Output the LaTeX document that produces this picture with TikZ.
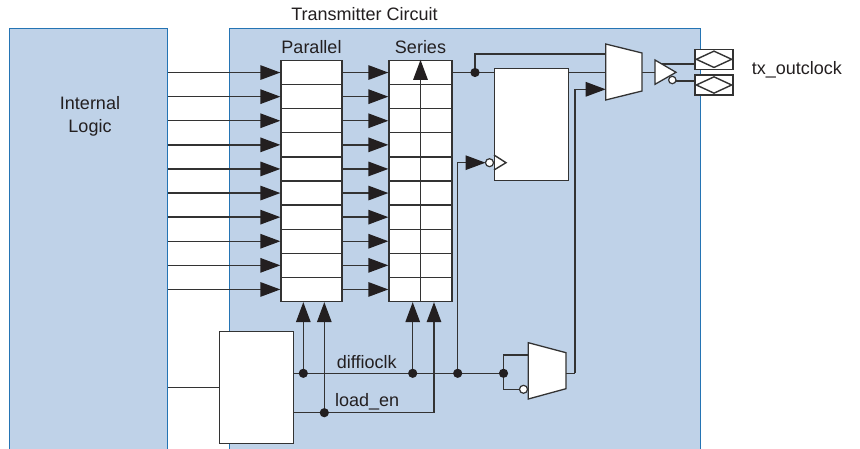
\documentclass[tikz,border=0pt]{standalone}
\usepackage{fontspec}
\setmainfont{Liberation Sans}
\usetikzlibrary{arrows.meta}
\definecolor{bfill}{HTML}{BFD2E8}
\definecolor{bline}{HTML}{2474B4}
\definecolor{wire}{HTML}{333333}
\definecolor{ink}{HTML}{231F20}
\begin{document}
\begin{tikzpicture}[x=1pt,y=-1pt,
  wirestyle/.style={draw=wire, line width=1.4pt},
  arr/.style={wirestyle, -{Triangle[length=20pt,width=14.5pt,color=ink]}},
  blk/.style={draw=bline, fill=bfill, line width=1.4pt, inner sep=0pt, anchor=north west},
  cell/.style={draw=wire, fill=white, line width=1.3pt, inner sep=0pt, minimum width=61pt, minimum height=24.1pt},
  whitebox/.style={draw=wire, fill=white, line width=1.3pt, inner sep=0pt, anchor=north west},
  gate/.style={draw=wire, fill=white, line width=1.3pt, line join=miter},
  bubble/.style={draw=wire, fill=white, line width=1.2pt},
  pad/.style={draw=wire, fill=white, line width=1.3pt, inner sep=0pt, minimum width=38pt, minimum height=20pt},
  dot/.style={fill=ink},
  lbl/.style={font=\fontsize{18}{20}\selectfont, text=ink, inner sep=0pt}
]
\useasboundingbox (0,0) rectangle (860,449);
\clip (0,0) rectangle (860,449);
\fill[white] (0,0) rectangle (860,449);

% big blocks
\node[blk, minimum width=158pt, minimum height=440pt] (il) at (9,28) {};
\node[blk, minimum width=471pt, minimum height=440pt] (tx) at (229,28) {};

% texts
\node[lbl, anchor=base] (ttx) at (364.5,20.7) {Transmitter Circuit};
\node[lbl, anchor=base] (til1) at (90,110) {Internal};
\node[lbl, anchor=base] (til2) at (90,133) {Logic};
\node[lbl, anchor=base] (tpar) at (311.5,53.3) {Parallel};
\node[lbl, anchor=base] (tser) at (420.5,53.3) {Series};
\node[lbl, anchor=base west] (tout) at (751.7,75) {tx\_outclock};
\node[lbl, anchor=base west] (tdk) at (336.7,368.3) {diffioclk};
\node[lbl, anchor=base west] (tle) at (335,406.7) {load\_en};

% registers
\foreach \k in {1,...,10} {
  \node[cell] (p\k) at (311.5,{60.5+24.1*(\k-0.5)}) {};
  \node[cell, minimum width=63pt] (s\k) at (420.5,{60.5+24.1*(\k-0.5)}) {};
}
\foreach \k in {1,...,10} {
  \draw[arr] (il.east |- p\k.west) -- (p\k.west);
  \draw[arr] (p\k.east) -- (s\k.west);
}
\draw[arr] (s10.south) -- (s1.north);

% flip-flop and control box
\node[whitebox, minimum width=74pt, minimum height=112pt] (ff) at (494,68) {};
\node[whitebox, minimum width=74pt, minimum height=111.5pt] (cb) at (219,331) {};

% coordinates
\coordinate (j1) at (475,72.5);
\coordinate (m1in1) at (605.7,54);
\coordinate (m1in2) at (605.7,72.5);
\coordinate (m1in3) at (605.7,89.3);
\coordinate (m1out) at (642,72.5);
\coordinate (bufin) at (655,72.5);
\coordinate (bufp) at (662,64);
\coordinate (bufn) at (676,81);
\coordinate (dk) at (293,373.3);
\coordinate (le) at (293,412.7);
\coordinate (j2) at (303.3,373.3);
\coordinate (j3) at (412.7,373.3);
\coordinate (j4) at (457.7,373.3);
\coordinate (j5) at (503.5,373.3);
\coordinate (j6) at (324.3,412.7);
\coordinate (c434) at (434,412.7);
\coordinate (m2a) at (528.3,355);
\coordinate (m2b) at (519.5,389.3);
\coordinate (m2out) at (566,373.3);
\coordinate (v575) at (575,373.3);
\coordinate (ffclk) at (485.5,162.7);

% wires around serializer output
\draw[wirestyle] (s1.east) -- (ff.west |- s1.east);
\draw[wirestyle] (j1) |- (m1in1);
\draw[wirestyle] (ff.east |- m1in2) -- (m1in2);
\draw[wirestyle] (m1out) -- (bufin);

% pads
\node[pad] (pad1) at (714,59.3) {};
\node[pad] (pad2) at (714,85) {};
\foreach \p in {pad1,pad2}
  \draw[wirestyle] ([xshift=2pt]\p.west) -- ([yshift=-2.5pt]\p.north) -- ([xshift=-2pt]\p.east) -- ([yshift=2.5pt]\p.south) -- cycle;
\draw[wirestyle] (bufp) -- (bufp -| pad1.west);
\draw[wirestyle] (bufn) -- (bufn -| pad2.west);

% mux 1 and buffer
\draw[gate] (605.7,44) -- (642,53) -- (642,91) -- (605.7,100) -- cycle;
\draw[gate] (655,60) -- (676,72.3) -- (655,84.3) -- cycle;
\draw[bubble] (672.3,80) circle (3.7);

% ff clock input
\draw[wirestyle, line join=miter] (494,155) -- (506,162.7) -- (494,170);
\draw[bubble] (489.5,162.7) circle (4);
\draw[arr] (j4) |- (ffclk);

% bottom control wires
\draw[wirestyle] (il.east |- cb.west) -- (cb.west);
\draw[wirestyle] (dk) -- (j5);
\draw[arr] (le) -- (c434) -- (c434 |- s10.south);
\draw[arr] (j2) -- (j2 |- p10.south);
\draw[arr] (j6) -- (j6 |- p10.south);
\draw[arr] (j3) -- (j3 |- s10.south);

% mux 2
\draw[wirestyle] (j5) |- (m2a);
\draw[wirestyle] (j5) |- (m2b);
\draw[gate] (528.3,342.7) -- (566,352.7) -- (566,388.7) -- (528.3,399) -- cycle;
\draw[bubble] (523.5,389.3) circle (4);
\draw[wirestyle] (m2out) -- (v575);
\draw[arr] (v575) |- (m1in3);

% dots
\foreach \d in {j1,j2,j3,j4,j5,j6}
  \fill[dot] (\d) circle (4.6);
\end{tikzpicture}
\end{document}
